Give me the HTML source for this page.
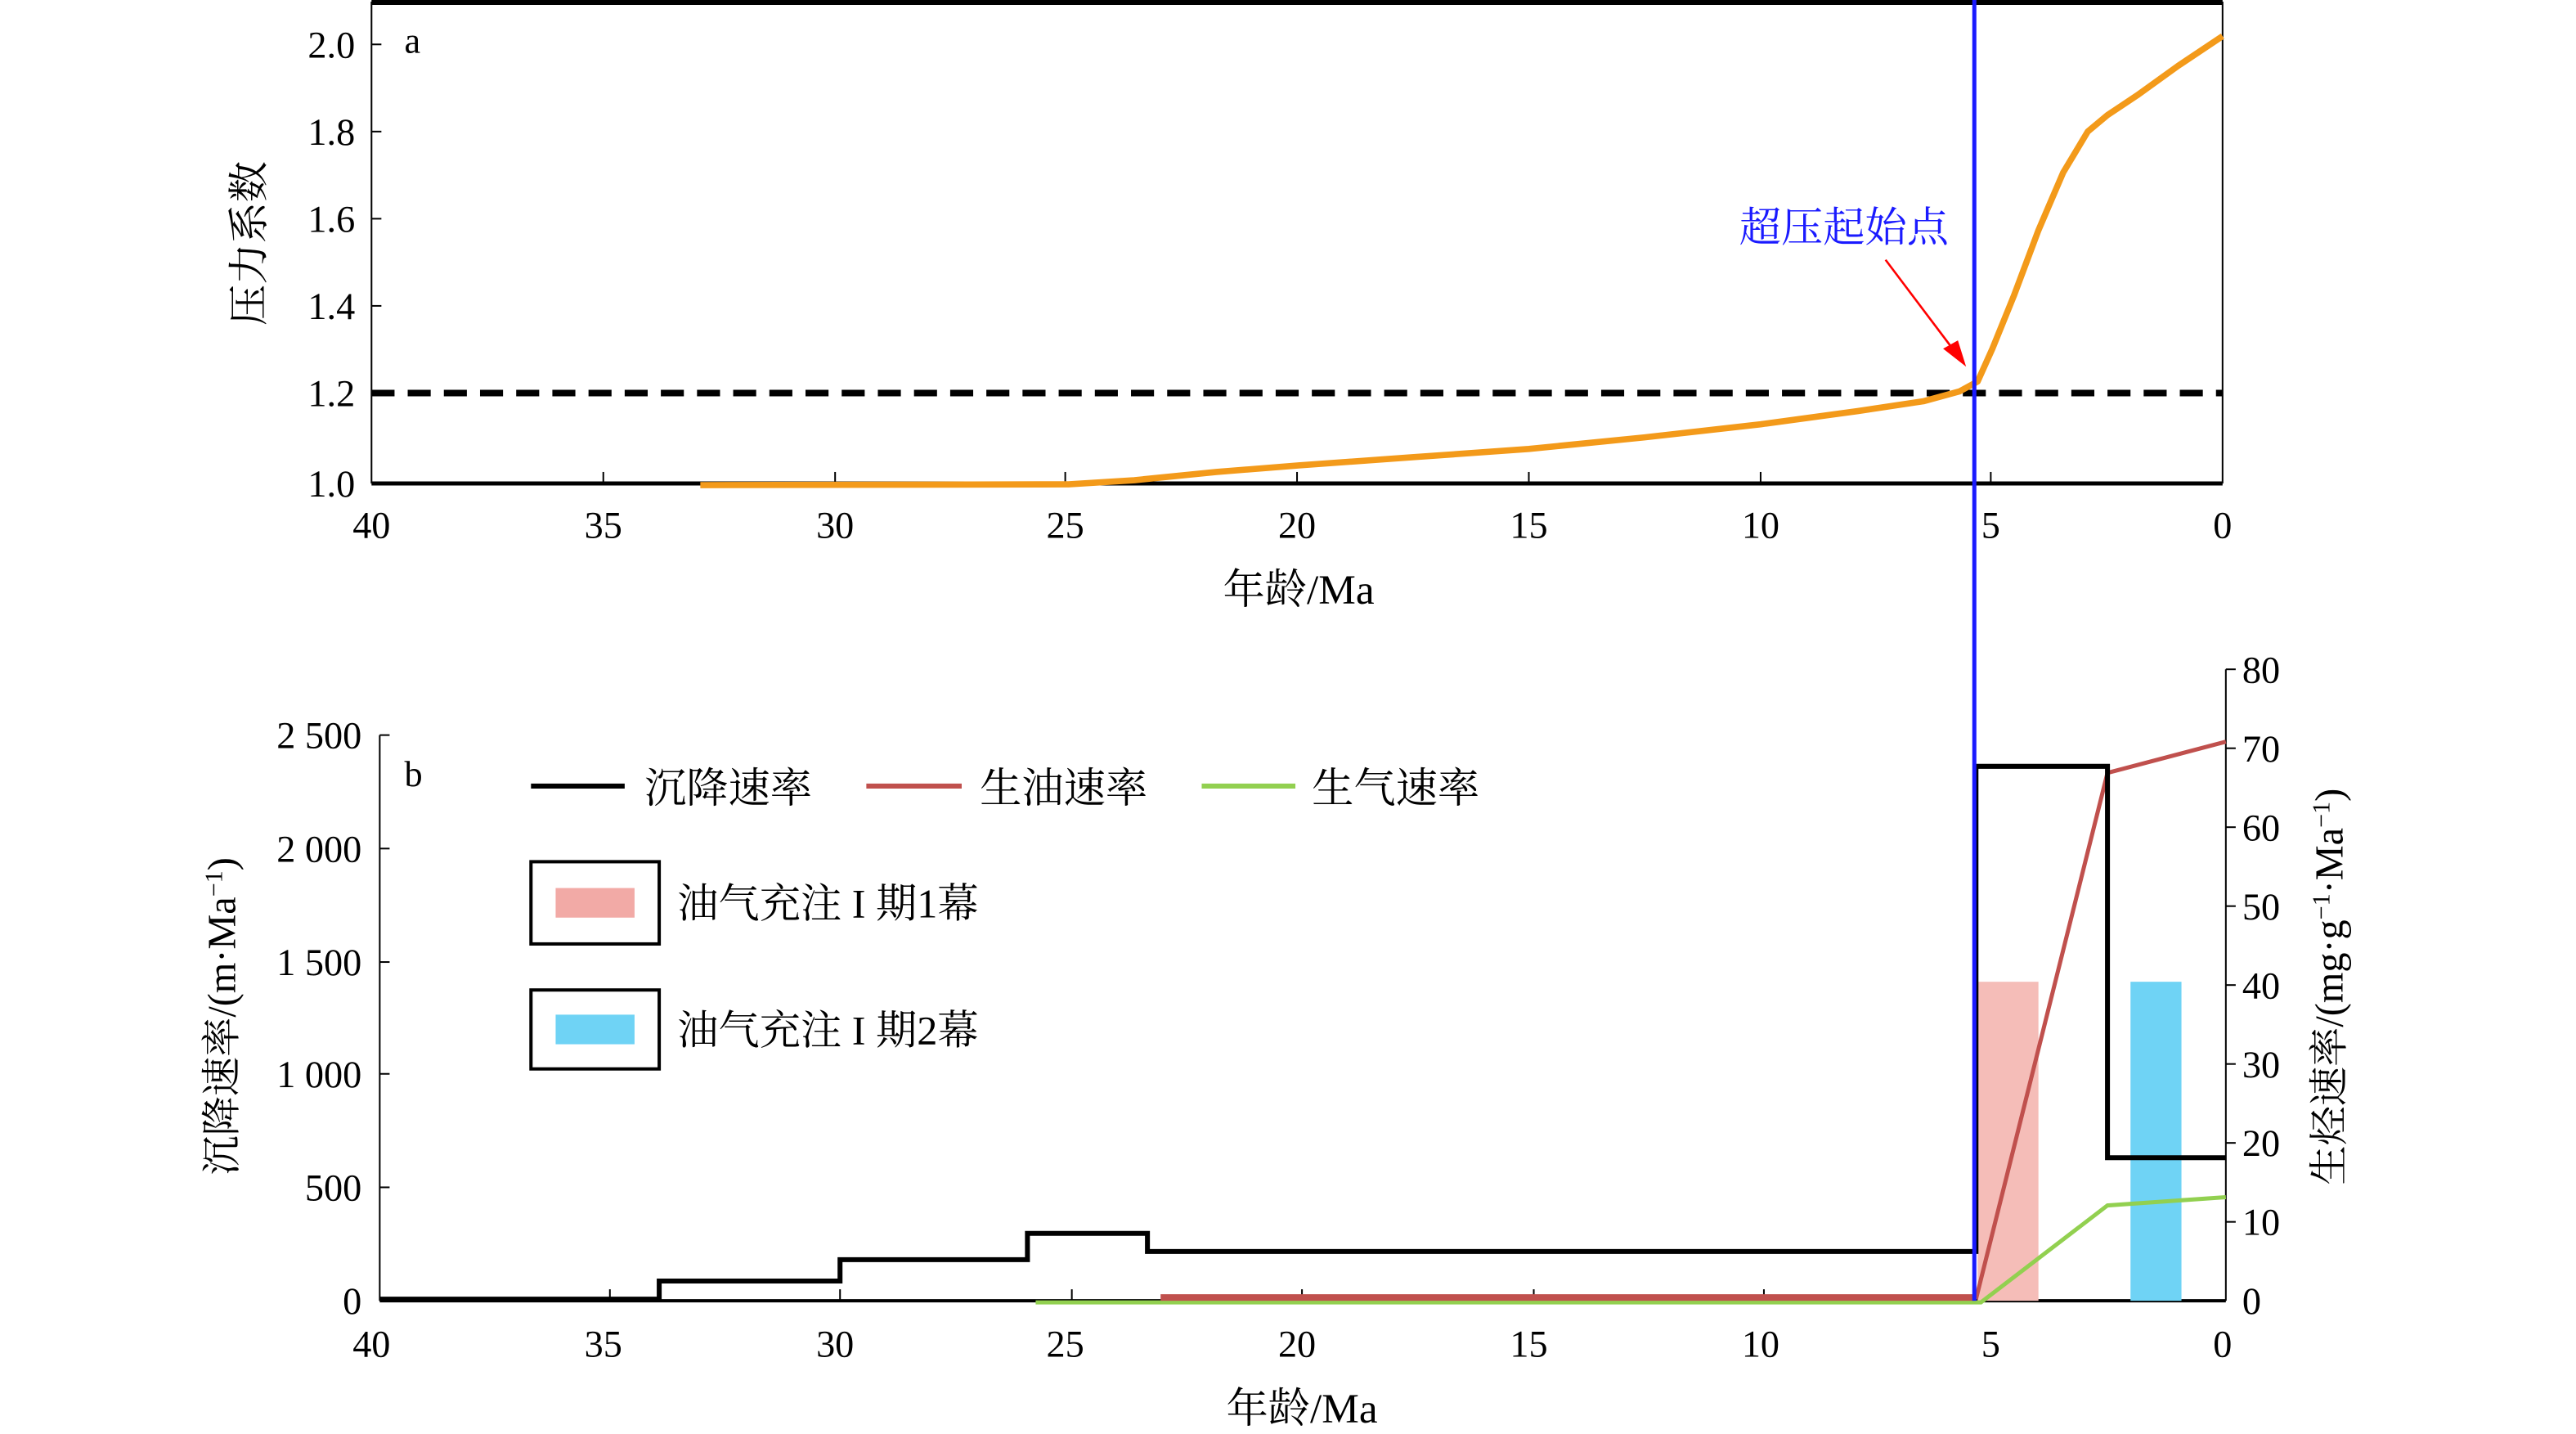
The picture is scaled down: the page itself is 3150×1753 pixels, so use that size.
<!DOCTYPE html>
<html><head><meta charset="utf-8"><style>
html,body{margin:0;padding:0;background:#fff;}
svg{display:block;}
text{font-family:"Liberation Serif","Noto Serif CJK SC","Noto Sans CJK SC",serif;fill:#000;}
</style></head><body>
<svg width="3150" height="1753" viewBox="0 0 1567 872" preserveAspectRatio="none" xmlns="http://www.w3.org/2000/svg">
<!-- Panel a -->
<line x1="226" y1="1.5" x2="1352" y2="1.5" stroke="#000" stroke-width="3"/>
<line x1="226" y1="1" x2="226" y2="294" stroke="#000" stroke-width="1"/>
<line x1="1352" y1="1" x2="1352" y2="294" stroke="#000" stroke-width="1"/>
<line x1="226" y1="294" x2="1352" y2="294" stroke="#000" stroke-width="2.5"/>
<g stroke="#000" stroke-width="1">
<line x1="367" y1="294" x2="367" y2="287"/><line x1="508" y1="294" x2="508" y2="287"/><line x1="648" y1="294" x2="648" y2="287"/><line x1="789" y1="294" x2="789" y2="287"/><line x1="930" y1="294" x2="930" y2="287"/><line x1="1071" y1="294" x2="1071" y2="287"/><line x1="1211" y1="294" x2="1211" y2="287"/>
<line x1="226" y1="27" x2="232" y2="27"/><line x1="226" y1="80" x2="232" y2="80"/><line x1="226" y1="133" x2="232" y2="133"/><line x1="226" y1="186" x2="232" y2="186"/><line x1="226" y1="239" x2="232" y2="239"/>
</g>
<g font-size="23" text-anchor="end">
<text x="216" y="35">2.0</text><text x="216" y="88">1.8</text><text x="216" y="141">1.6</text><text x="216" y="194">1.4</text><text x="216" y="247">1.2</text><text x="216" y="302">1.0</text>
</g>
<g font-size="23" text-anchor="middle">
<text x="226" y="327">40</text><text x="367" y="327">35</text><text x="508" y="327">30</text><text x="648" y="327">25</text><text x="789" y="327">20</text><text x="930" y="327">15</text><text x="1071" y="327">10</text><text x="1211" y="327">5</text><text x="1352" y="327">0</text>
<text x="790" y="367" font-size="25.5">年龄/Ma</text>
</g>
<text x="246" y="32" font-size="22">a</text>
<text transform="translate(160,148) rotate(-90)" font-size="25" text-anchor="middle">压力系数</text>
<line x1="226" y1="239" x2="1352" y2="239" stroke="#000" stroke-width="4" stroke-dasharray="14,8"/>
<polyline fill="none" stroke="#f39a1a" stroke-width="3.8" stroke-linejoin="round" points="426,295 650,294.5 690,292 740,287 790,283 860,278 930,273 1000,266 1071,258 1130,250 1170,244 1192,238 1203,232 1212,212 1225,180 1240,140 1255,105 1270,80 1282,70 1300,58 1325,40 1352,22"/>
<text x="1058" y="147" font-size="25.5" fill="#1a1aff" style="fill:#1a1aff">超压起始点</text>
<line x1="1147" y1="158" x2="1190" y2="215" stroke="#ff0000" stroke-width="1.3"/>
<polygon points="1196,223 1182,212 1191,207" fill="#ff0000"/>

<!-- Panel b -->
<line x1="231" y1="447" x2="231" y2="791" stroke="#000" stroke-width="1"/>
<line x1="1354" y1="407" x2="1354" y2="791" stroke="#000" stroke-width="1"/>
<line x1="231" y1="791" x2="1354" y2="791" stroke="#000" stroke-width="2"/>
<g stroke="#000" stroke-width="1">
<line x1="371" y1="791" x2="371" y2="784"/><line x1="511" y1="791" x2="511" y2="784"/><line x1="652" y1="791" x2="652" y2="784"/><line x1="792" y1="791" x2="792" y2="784"/><line x1="933" y1="791" x2="933" y2="784"/><line x1="1073" y1="791" x2="1073" y2="784"/><line x1="1213" y1="791" x2="1213" y2="784"/>
<line x1="231" y1="447" x2="237" y2="447"/><line x1="231" y1="516" x2="237" y2="516"/><line x1="231" y1="585" x2="237" y2="585"/><line x1="231" y1="653" x2="237" y2="653"/><line x1="231" y1="722" x2="237" y2="722"/>
<line x1="1354" y1="407" x2="1360" y2="407"/><line x1="1354" y1="455" x2="1360" y2="455"/><line x1="1354" y1="503" x2="1360" y2="503"/><line x1="1354" y1="551" x2="1360" y2="551"/><line x1="1354" y1="599" x2="1360" y2="599"/><line x1="1354" y1="647" x2="1360" y2="647"/><line x1="1354" y1="695" x2="1360" y2="695"/><line x1="1354" y1="743" x2="1360" y2="743"/>
</g>
<g font-size="23" text-anchor="end">
<text x="220" y="455">2 500</text><text x="220" y="524">2 000</text><text x="220" y="593">1 500</text><text x="220" y="661">1 000</text><text x="220" y="730">500</text><text x="220" y="799">0</text>
</g>
<g font-size="23" text-anchor="start">
<text x="1364" y="415">80</text><text x="1364" y="463">70</text><text x="1364" y="511">60</text><text x="1364" y="559">50</text><text x="1364" y="607">40</text><text x="1364" y="655">30</text><text x="1364" y="703">20</text><text x="1364" y="751">10</text><text x="1364" y="799">0</text>
</g>
<g font-size="23" text-anchor="middle">
<text x="226" y="825">40</text><text x="367" y="825">35</text><text x="508" y="825">30</text><text x="648" y="825">25</text><text x="789" y="825">20</text><text x="930" y="825">15</text><text x="1071" y="825">10</text><text x="1211" y="825">5</text><text x="1352" y="825">0</text>
<text x="792" y="865" font-size="25.5">年龄/Ma</text>
</g>
<text x="246" y="478" font-size="22">b</text>
<text transform="translate(143,618) rotate(-90)" font-size="24" text-anchor="middle">沉降速率/(m·Ma<tspan font-size="15" dy="-8">−1</tspan><tspan dy="8">)</tspan></text>
<text transform="translate(1425,600) rotate(-90)" font-size="24" text-anchor="middle">生烃速率/(mg·g<tspan font-size="15" dy="-8">−1</tspan><tspan dy="8">·Ma</tspan><tspan font-size="15" dy="-8">−1</tspan><tspan dy="8">)</tspan></text>

<rect x="1203" y="597" width="37" height="194" fill="#f5bdb8"/>
<rect x="1296" y="597" width="31" height="194" fill="#6fd3f5"/>
<polyline fill="none" stroke="#92d050" stroke-width="2.5" points="630,792 1205,792 1282,733 1354,728"/>
<polyline fill="none" stroke="#c0504d" stroke-width="4" points="706,789 1202,789"/>
<polyline fill="none" stroke="#c0504d" stroke-width="2.5" points="1202,790 1282,470 1354,451"/>
<polyline fill="none" stroke="#000" stroke-width="3" points="231,790 401,790 401,779 511,779 511,766 625,766 625,750 698,750 698,761 1202,761 1202,466 1282,466 1282,704 1354,704"/>
<line x1="1201" y1="0" x2="1201" y2="791" stroke="#1a1aff" stroke-width="2.5"/>

<line x1="323" y1="478" x2="380" y2="478" stroke="#000" stroke-width="3"/>
<text x="392" y="488" font-size="25.5">沉降速率</text>
<line x1="527" y1="478" x2="585" y2="478" stroke="#c0504d" stroke-width="3"/>
<text x="596" y="488" font-size="25.5">生油速率</text>
<line x1="731" y1="478" x2="788" y2="478" stroke="#92d050" stroke-width="3"/>
<text x="798" y="488" font-size="25.5">生气速率</text>
<rect x="323" y="524" width="78" height="50" fill="none" stroke="#000" stroke-width="2"/>
<rect x="338" y="540" width="48" height="18" fill="#f2aaa6"/>
<text x="412" y="558" font-size="25">油气充注 I 期1幕</text>
<rect x="323" y="602" width="78" height="48" fill="none" stroke="#000" stroke-width="2"/>
<rect x="338" y="617" width="48" height="18" fill="#6fd3f5"/>
<text x="412" y="635" font-size="25">油气充注 I 期2幕</text>
</svg>
</body></html>
